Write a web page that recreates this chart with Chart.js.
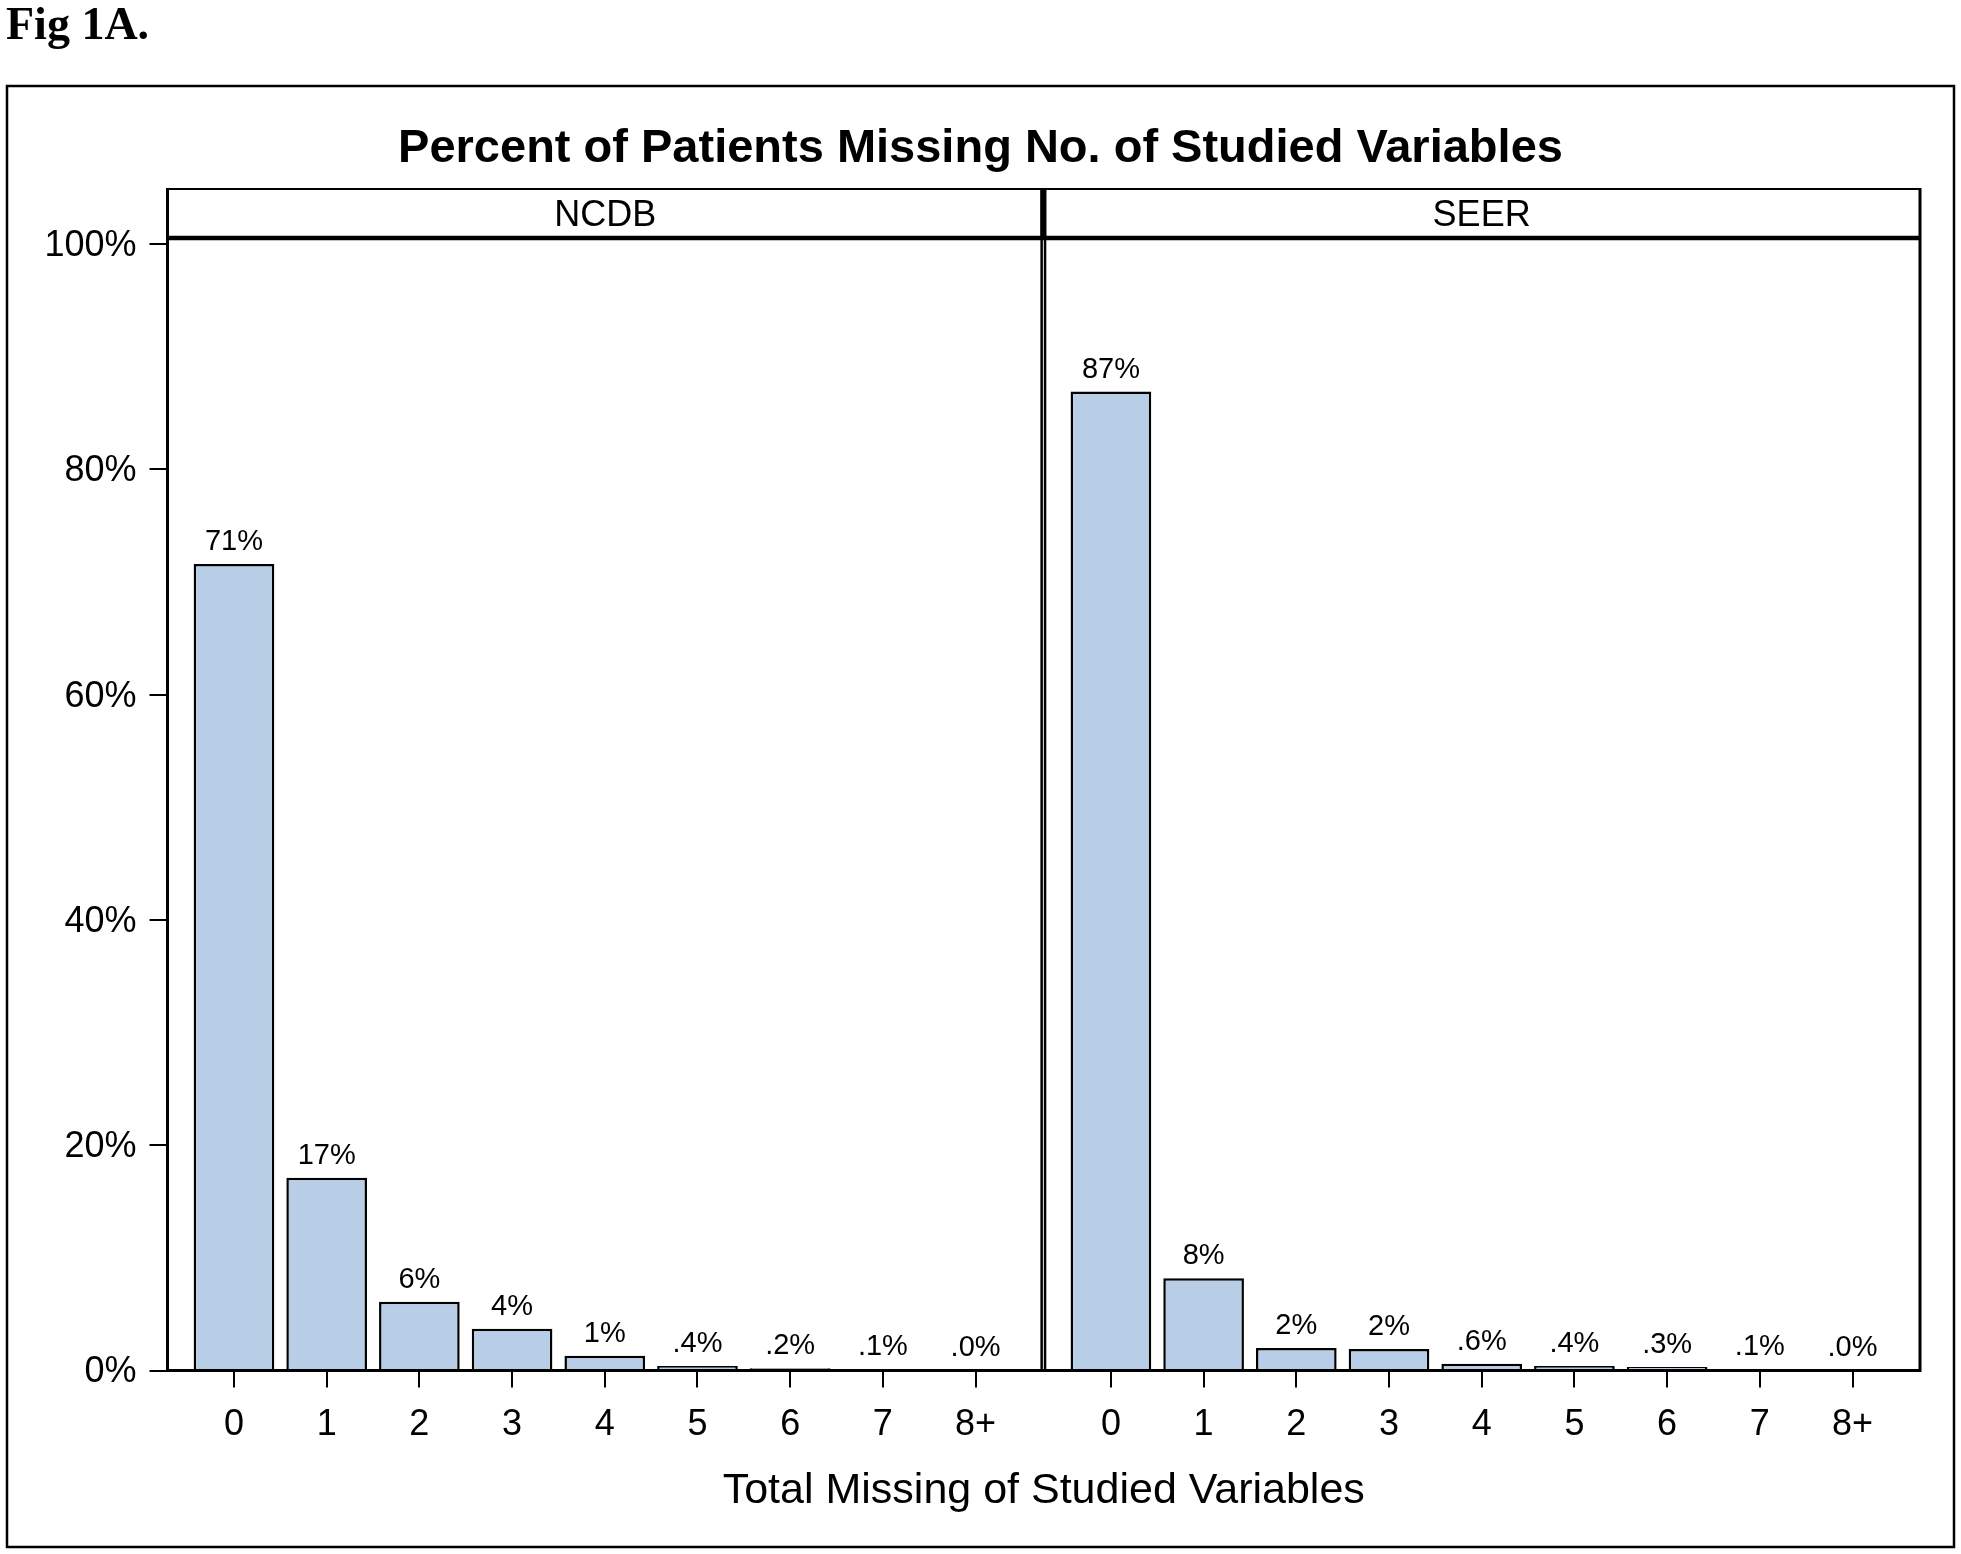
<!DOCTYPE html>
<html>
<head>
<meta charset="utf-8">
<script src="https://cdn.jsdelivr.net/npm/chart.js@4.4.1/dist/chart.umd.min.js"></script>
<style>
  html, body { margin: 0; padding: 0; background: #fff; }
  #wrap { position: relative; width: 1961px; height: 1554px; }
</style>
</head>
<body>
<div id="wrap"><canvas id="myChart"></canvas></div>
<script>
const categories = ['0', '1', '2', '3', '4', '5', '6', '7', '8+'];
const panels = ['NCDB', 'SEER'];
const ncdbValues = [71.6, 17.1, 6.1, 3.7, 1.3, 0.4, 0.2, 0.1, 0.03];
const seerValues = [86.9, 8.2, 2.0, 1.9, 0.6, 0.4, 0.3, 0.1, 0.02];
const ncdbLabels = ['71%', '17%', '6%', '4%', '1%', '.4%', '.2%', '.1%', '.0%'];
const seerLabels = ['87%', '8%', '2%', '2%', '.6%', '.4%', '.3%', '.1%', '.0%'];

// both panels share one x axis, SEER is shifted along it
const seerShift = 9.46;
const panelSplit = 8.73;

const FONT = '"Liberation Sans", Arial, sans-serif';

const panelFrame = {
    id: 'panelFrame',
    afterDatasetsDraw(chart) {
        const ctx = chart.ctx;
        const a = chart.chartArea;
        const split = chart.scales.x.getPixelForValue(panelSplit);
        const headTop = a.top - 55;
        const headBot = a.top - 6;

        ctx.save();

        // bar labels
        ctx.fillStyle = '#000';
        ctx.font = '29px ' + FONT;
        ctx.textAlign = 'center';
        ctx.textBaseline = 'alphabetic';
        [ncdbLabels, seerLabels].forEach(function (labs, d) {
            chart.getDatasetMeta(d).data.forEach(function (bar, i) {
                ctx.fillText(labs[i], bar.x, bar.y - 14);
            });
        });

        ctx.strokeStyle = '#000';

        // header strip
        ctx.lineWidth = 2;
        ctx.beginPath();
        ctx.moveTo(a.left, headTop);
        ctx.lineTo(a.right, headTop);
        ctx.stroke();
        ctx.lineWidth = 4.5;
        ctx.beginPath();
        ctx.moveTo(a.left, headBot);
        ctx.lineTo(a.right, headBot);
        ctx.stroke();

        ctx.font = '36px ' + FONT;
        ctx.textBaseline = 'middle';
        const hy = (headTop + headBot) / 2 + 3;
        ctx.fillText(panels[0], (a.left + split) / 2, hy);
        ctx.fillText(panels[1], (split + a.right) / 2, hy);

        // panel borders
        ctx.lineWidth = 3;
        ctx.beginPath();
        ctx.moveTo(a.left, headTop - 1);
        ctx.lineTo(a.left, a.bottom + 1.5);
        ctx.moveTo(a.right, headTop - 1);
        ctx.lineTo(a.right, a.bottom + 1.5);
        ctx.moveTo(a.left, a.bottom);
        ctx.lineTo(a.right, a.bottom);
        ctx.stroke();

        ctx.lineWidth = 2.5;
        ctx.beginPath();
        ctx.moveTo(split - 1.6, headTop);
        ctx.lineTo(split - 1.6, a.bottom);
        ctx.moveTo(split + 1.8, headTop);
        ctx.lineTo(split + 1.8, a.bottom);
        ctx.stroke();
        ctx.fillStyle = '#000';
        ctx.fillRect(split - 2.8, headTop, 5.8, headBot - headTop);

        // outer box and figure tag
        ctx.lineWidth = 2.5;
        ctx.strokeRect(7, 86, 1947, 1461);
        ctx.font = 'bold 46px "Liberation Serif", "Times New Roman", serif';
        ctx.textAlign = 'left';
        ctx.textBaseline = 'alphabetic';
        ctx.fillText('Fig 1A.', 6, 39);

        ctx.restore();
    }
};

const ctx = document.getElementById('myChart');

const myChart = new Chart(ctx, {
    type: 'bar',
    data: {
        datasets: [{
            label: panels[0],
            data: ncdbValues.map(function (v, i) { return { x: i, y: v }; }),
            backgroundColor: '#B8CEE6',
            borderColor: '#000',
            borderWidth: 2.5,
            grouped: false,
            categoryPercentage: 1,
            barPercentage: 0.87
        },
        {
            label: panels[1],
            data: seerValues.map(function (v, i) { return { x: seerShift + i, y: v }; }),
            backgroundColor: '#B8CEE6',
            borderColor: '#000',
            borderWidth: 2.5,
            grouped: false,
            categoryPercentage: 1,
            barPercentage: 0.87
        }]
    },
    options: {
        responsive: true,
        maintainAspectRatio: false,
        animation: false,
        layout: { padding: { left: 41, right: 41, top: 0, bottom: 0 } },
        plugins: {
            legend: { display: false },
            tooltip: { enabled: false },
            title: {
                display: true,
                text: 'Percent of Patients Missing No. of Studied Variables',
                color: '#000',
                font: { family: FONT, size: 47, weight: 'bold' },
                padding: { top: 120.5, bottom: 67.1 }
            }
        },
        scales: {
            x: {
                type: 'linear',
                offset: false,
                min: -0.717,
                max: 18.188,
                afterBuildTicks: function (axis) {
                    const t = [];
                    categories.forEach(function (c, i) { t.push({ value: i }); });
                    categories.forEach(function (c, i) { t.push({ value: seerShift + i }); });
                    axis.ticks = t;
                },
                afterFit: function (scale) { scale.height = 183.5; },
                grid: {
                    offset: false,
                    drawOnChartArea: false,
                    drawTicks: true,
                    tickLength: 17,
                    color: '#000',
                    lineWidth: 2
                },
                border: { display: false },
                ticks: {
                    autoSkip: false,
                    maxRotation: 0,
                    padding: 16,
                    color: '#000',
                    font: { family: FONT, size: 36 },
                    callback: function (v, i) { return categories[i % categories.length]; }
                },
                title: {
                    display: true,
                    text: 'Total Missing of Studied Variables',
                    color: '#000',
                    font: { family: FONT, size: 43 },
                    padding: { top: 0, bottom: 37 }
                }
            },
            y: {
                min: 0,
                max: 100,
                afterFit: function (scale) { scale.width = 126.5; },
                grid: {
                    drawOnChartArea: false,
                    drawTicks: true,
                    tickLength: 18,
                    color: '#000',
                    lineWidth: 2
                },
                border: { display: false },
                ticks: {
                    stepSize: 20,
                    padding: 13,
                    labelOffset: 2,
                    color: '#000',
                    font: { family: FONT, size: 36 },
                    callback: function (v) { return v + '%'; }
                }
            }
        }
    },
    plugins: [panelFrame]
});
</script>
</body>
</html>
